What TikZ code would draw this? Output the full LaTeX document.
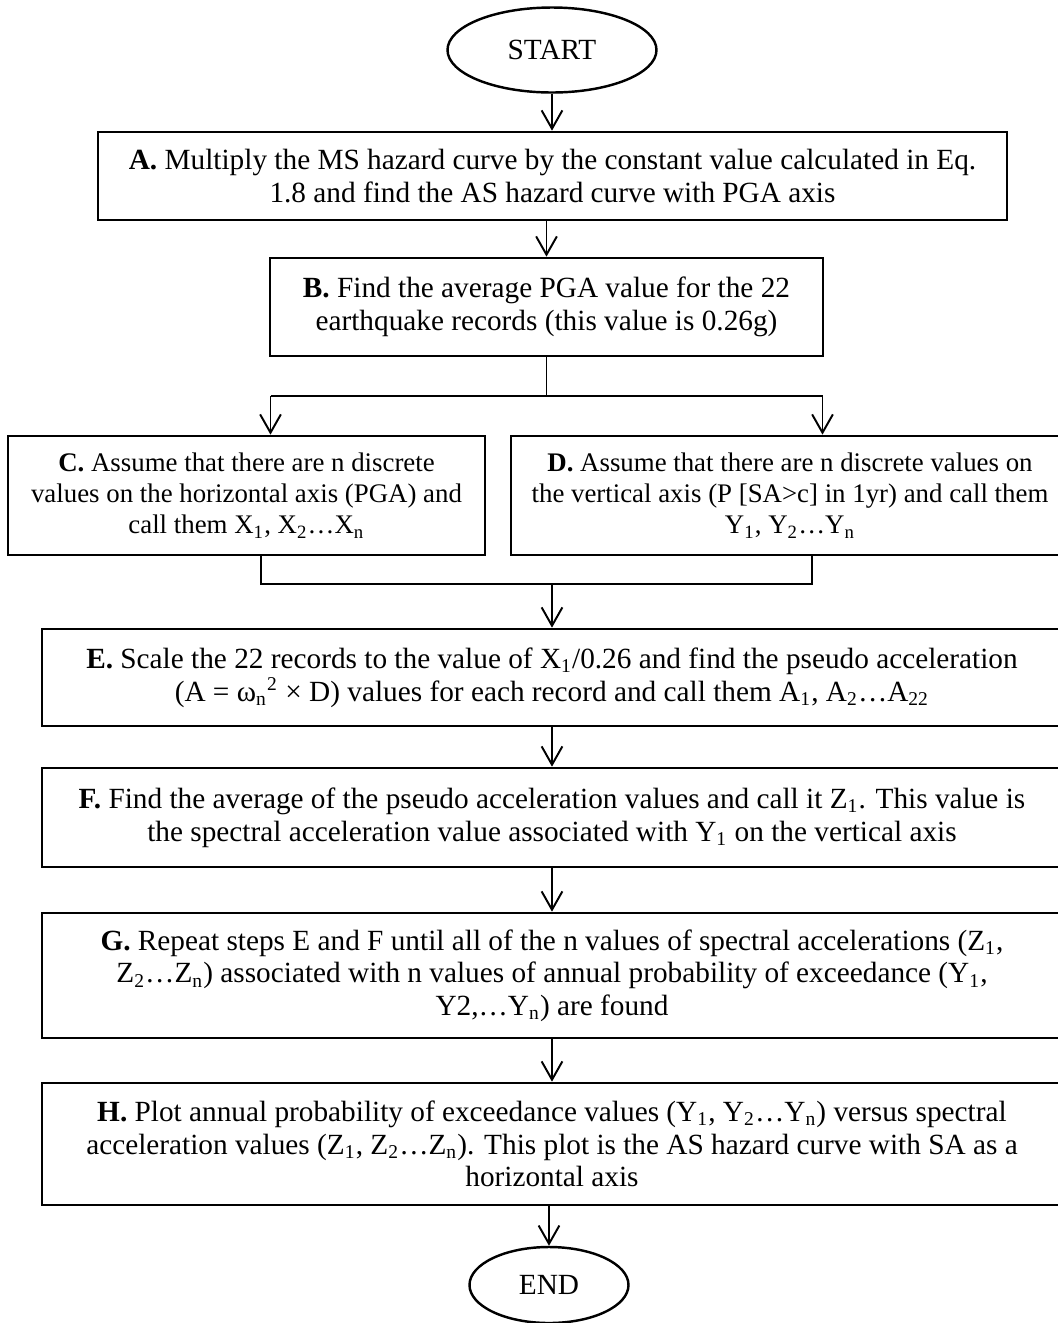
\documentclass[tikz,border=0pt]{standalone}
\usepackage{fontspec}
\setmainfont{Liberation Serif}
\usetikzlibrary{arrows.meta,shapes.geometric}
% one drawing unit = one pixel of the 1058 x 1323 sheet
\newcommand\pxu{0.4098pt}

\begin{document}
\begin{tikzpicture}[x=0.4098pt, y=-0.4098pt,
  stepbox/.style={draw, line width=1.1pt, align=center, inner sep=0pt,
    font=\fontsize{12}{13.4}\selectfont},
  smallbox/.style={stepbox, font=\fontsize{11}{12.8}\selectfont},
  terminal/.style={draw, ellipse, line width=1pt, inner sep=0pt,
    font=\fontsize{12}{14}\selectfont},
  link/.style={line width=0.8pt},
  arr/.style={link, -{Straight Barb[length=7.5pt, width=8.5pt]}}]

\clip (0,0) rectangle (1058,1323);

% terminals
\node[terminal, minimum width=209*\pxu, minimum height=85*\pxu] (start) at (552,50) {START};
\node[terminal, minimum width=159*\pxu, minimum height=76*\pxu] (end) at (549,1285) {END};

% process steps
\node[stepbox, minimum width=909*\pxu, minimum height=88*\pxu] (A) at (552.5,176)
  {\textbf{A.} Multiply the MS hazard curve by the constant value calculated in Eq.\\
   1.8 and find the AS hazard curve with PGA axis};
\node[stepbox, minimum width=553*\pxu, minimum height=98*\pxu] (B) at (546.5,307)
  {\textbf{B.} Find the average PGA value for the 22\\
   earthquake records (this value is 0.26g)};
\node[smallbox, minimum width=477*\pxu, minimum height=119*\pxu] (C) at (246.5,495.5)
  {\textbf{C.} Assume that there are n discrete\\
   values on the horizontal axis (PGA) and\\
   call them X\textsubscript{1}, X\textsubscript{2}…X\textsubscript{n}};
\node[smallbox, minimum width=558*\pxu, minimum height=119*\pxu] (D) at (790,495.5)
  {\textbf{D.} Assume that there are n discrete values on\\
   the vertical axis (P [SA>c] in 1yr) and call them\\
   Y\textsubscript{1}, Y\textsubscript{2}…Y\textsubscript{n}};
\node[stepbox, minimum width=1020*\pxu, minimum height=97*\pxu] (E) at (552,677.5)
  {\textbf{E.} Scale the 22 records to the value of X\textsubscript{1}/0.26 and find the pseudo acceleration\\
   (A = ω\textsubscript{n}\textsuperscript{2} × D) values for each record and call them A\textsubscript{1}, A\textsubscript{2}…A\textsubscript{22}};
\node[stepbox, minimum width=1020*\pxu, minimum height=99*\pxu] (F) at (552,817.5)
  {\textbf{F.} Find the average of the pseudo acceleration values and call it Z\textsubscript{1}. This value is\\
   the spectral acceleration value associated with Y\textsubscript{1} on the vertical axis};
\node[stepbox, minimum width=1020*\pxu, minimum height=125*\pxu] (G) at (552,975.5)
  {\textbf{G.} Repeat steps E and F until all of the n values of spectral accelerations (Z\textsubscript{1},\\
   Z\textsubscript{2}…Z\textsubscript{n}) associated with n values of annual probability of exceedance (Y\textsubscript{1},\\
   Y2,…Y\textsubscript{n}) are found};
\node[stepbox, minimum width=1020*\pxu, minimum height=122*\pxu] (H) at (552,1144)
  {\textbf{H.} Plot annual probability of exceedance values (Y\textsubscript{1}, Y\textsubscript{2}…Y\textsubscript{n}) versus spectral\\
   acceleration values (Z\textsubscript{1}, Z\textsubscript{2}…Z\textsubscript{n}). This plot is the AS hazard curve with SA as a\\
   horizontal axis};

% branch and merge points
\coordinate (jl) at (270.5,396);
\coordinate (jr) at (822.5,396);
\coordinate (ml) at (261,584);
\coordinate (mr) at (812,584);

% connectors
\draw[arr] (start.south) -- (start.south |- A.north);
\draw[arr] (A.south -| B.north) -- (B.north);
\draw[link] (B.south) -- (B.south |- jl);
\draw[link] (jl) -- (jr);
\draw[arr] (jl) -- (jl |- C.north);
\draw[arr] (jr) -- (jr |- D.north);
\draw[link] (ml |- C.south) -- (ml) -- (mr) -- (mr |- D.south);
\draw[arr] (E.north |- ml) -- (E.north);
\draw[arr] (E.south) -- (F.north);
\draw[arr] (F.south) -- (G.north);
\draw[arr] (G.south) -- (H.north);
\draw[arr] (H.south -| end.north) -- (end.north);
\end{tikzpicture}
\end{document}
